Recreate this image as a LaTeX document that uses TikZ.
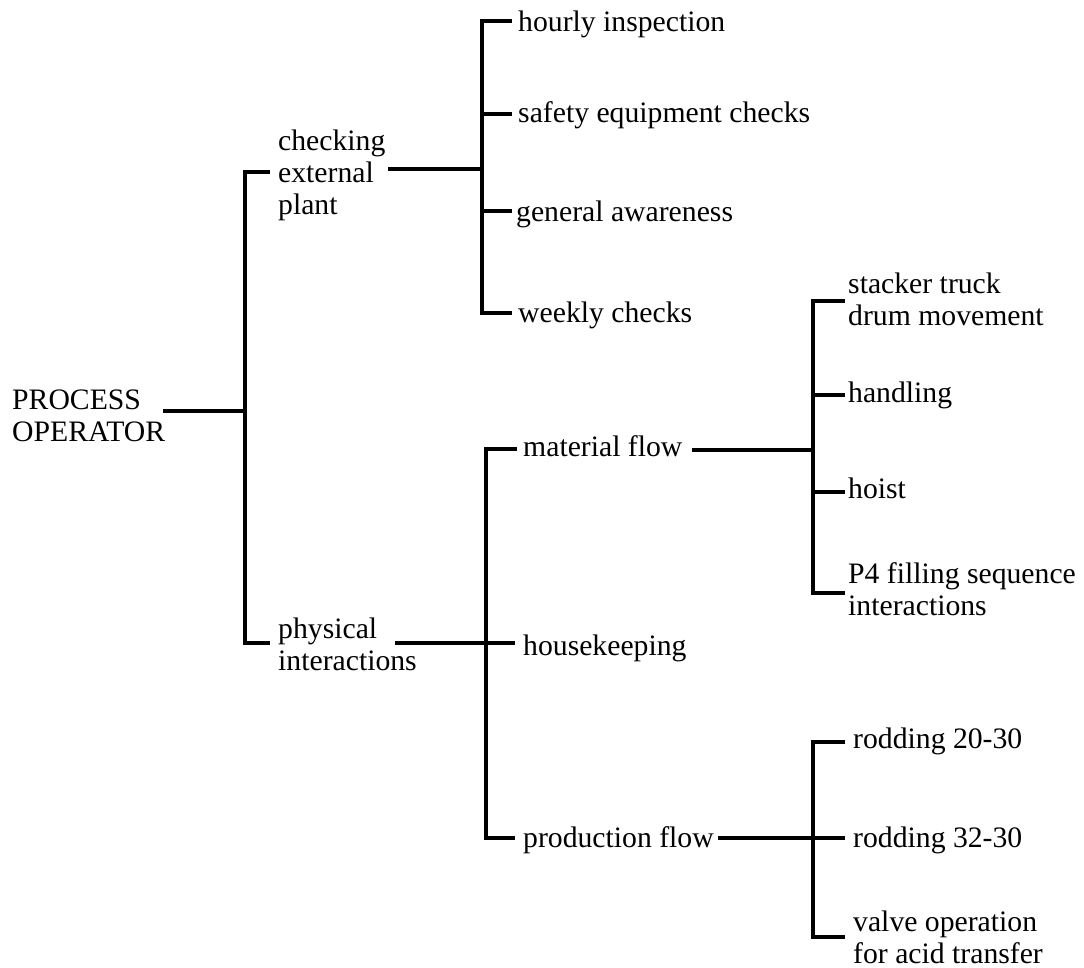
\documentclass[tikz,border=0pt]{standalone}
\usepackage{fontspec}
\setmainfont{Liberation Serif}
\begin{document}
\begin{tikzpicture}[x=1pt,y=-1pt,
  lbl/.style={anchor=base west, inner sep=0pt, align=left,
              font=\fontsize{29.7}{32}\selectfont},
  conn/.style={line width=3.2pt, line join=miter}]
\useasboundingbox (0,0) rectangle (1084,968);

% ---- labels (multi-line labels sit on the baseline of their last line) ----
\node[lbl] (po)  at (12,441)  {PROCESS\\OPERATOR};
\node[lbl] (cep) at (278,215) {checking\\external\\plant};
\node[lbl] (pi)  at (278,670) {physical\\interactions};
\node[lbl] (hi)  at (518,32)  {hourly inspection};
\node[lbl] (sec) at (518,123) {safety equipment checks};
\node[lbl] (ga)  at (516,222) {general awareness};
\node[lbl] (wc)  at (518,322) {weekly checks};
\node[lbl] (mf)  at (523,456) {material flow};
\node[lbl] (hk)  at (523,655) {housekeeping};
\node[lbl] (pf)  at (523,847) {production flow};
\node[lbl] (st)  at (848,325) {stacker truck\\drum movement};
\node[lbl] (ha)  at (848,402) {handling};
\node[lbl] (ho)  at (848,498) {hoist};
\node[lbl] (p4)  at (848,615) {P4 filling sequence\\interactions};
\node[lbl] (r1)  at (853,748) {rodding 20-30};
\node[lbl] (r2)  at (853,847) {rodding 32-30};
\node[lbl] (vo)  at (853,963) {valve operation\\for acid transfer};

% ---- connector end points ----
% root
\coordinate (po-out) at (163,411);
\coordinate (j0)     at (245,411);
\coordinate (j0t)    at (245,172);
\coordinate (j0b)    at (245,643);
\coordinate (cep-in) at (270,172);
\coordinate (pi-in)  at (270,643);
% checking external plant
\coordinate (cep-out) at (388,169);
\coordinate (j1)      at (482,169);
\coordinate (j1t)     at (482,21);
\coordinate (j1b)     at (482,313);
\coordinate (hi-in)   at (512,21);
\coordinate (sec-j)   at (482,114);
\coordinate (sec-in)  at (512,114);
\coordinate (ga-j)    at (482,211);
\coordinate (ga-in)   at (512,211);
\coordinate (wc-in)   at (512,313);
% physical interactions
\coordinate (pi-out) at (395,643);
\coordinate (hk-in)  at (515,643);
\coordinate (j2t)    at (486,449);
\coordinate (j2b)    at (486,838);
\coordinate (mf-in)  at (517,449);
\coordinate (pf-in)  at (515,838);
% material flow
\coordinate (mf-out) at (692,450);
\coordinate (j3)     at (813,450);
\coordinate (j3t)    at (813,301);
\coordinate (j3b)    at (813,593);
\coordinate (st-in)  at (845,301);
\coordinate (ha-j)   at (813,395);
\coordinate (ha-in)  at (845,395);
\coordinate (ho-j)   at (813,492);
\coordinate (ho-in)  at (845,492);
\coordinate (p4-in)  at (845,593);
% production flow
\coordinate (pf-out) at (718,838);
\coordinate (r2-in)  at (845,838);
\coordinate (j4t)    at (813,742);
\coordinate (j4b)    at (813,937);
\coordinate (r1-in)  at (845,742);
\coordinate (vo-in)  at (845,937);

% ---- connectors ----
\draw[conn] (po-out) -- (j0);
\draw[conn] (cep-in) -- (j0t) -- (j0b) -- (pi-in);

\draw[conn] (cep-out) -- (j1);
\draw[conn] (hi-in) -- (j1t) -- (j1b) -- (wc-in);
\draw[conn] (sec-j) -- (sec-in);
\draw[conn] (ga-j) -- (ga-in);

\draw[conn] (pi-out) -- (hk-in);
\draw[conn] (mf-in) -- (j2t) -- (j2b) -- (pf-in);

\draw[conn] (mf-out) -- (j3);
\draw[conn] (st-in) -- (j3t) -- (j3b) -- (p4-in);
\draw[conn] (ha-j) -- (ha-in);
\draw[conn] (ho-j) -- (ho-in);

\draw[conn] (pf-out) -- (r2-in);
\draw[conn] (r1-in) -- (j4t) -- (j4b) -- (vo-in);
\end{tikzpicture}
\end{document}
